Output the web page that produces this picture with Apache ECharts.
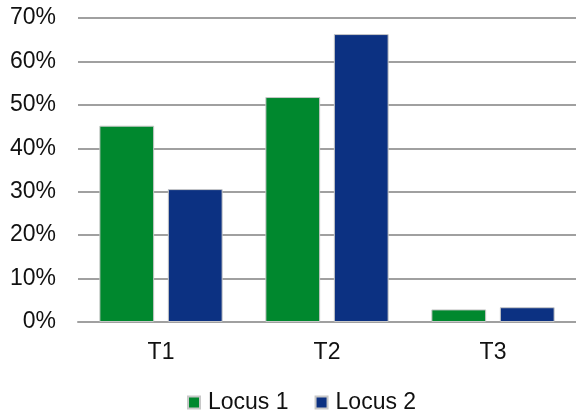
<!DOCTYPE html>
<html><head><meta charset="utf-8">
<script src="https://cdn.jsdelivr.net/npm/echarts@6/dist/echarts.min.js"></script>
<style>html,body{margin:0;padding:0;background:#fff}#c{width:576px;height:414px}</style>
</head><body><div id="c"></div>
<script>
var categories = ['T1', 'T2', 'T3'];
var locus1 = [45.2, 51.8, 2.9];
var locus2 = [30.6, 66.3, 3.4];
var seriesNames = ['Locus 1', 'Locus 2'];

var chart = echarts.init(document.getElementById('c'));
var font = 'Liberation Sans, Arial, sans-serif';
chart.setOption({
  animation: false,
  grid: {left: 78, right: 0, top: 18, bottom: 92},
  legend: {
    bottom: -5, left: 182, itemWidth: 12, itemHeight: 12, itemGap: 26,
    icon: 'rect',
    textStyle: {fontFamily: font, fontSize: 23, color: '#111', padding: [0,0,0,3]},
    data: seriesNames
  },
  xAxis: {
    type: 'category', data: categories,
    axisLine: {lineStyle: {color: '#a0a0a0', width: 2}},
    axisTick: {show: false},
    axisLabel: {fontFamily: font, fontSize: 23, color: '#111', margin: 19}
  },
  yAxis: {
    type: 'value', min: 0, max: 70, interval: 10,
    axisLine: {show: false}, axisTick: {show: false},
    splitLine: {lineStyle: {color: '#a0a0a0', width: 2}},
    axisLabel: {fontFamily: font, fontSize: 23, color: '#111', margin: 22, formatter: '{value}%'}
  },
  series: [
    {name: seriesNames[0], type: 'bar', data: locus1, barWidth: '33%', barGap: '25%',
     itemStyle: {color: '#00882e', borderColor: '#c8c8c8', borderWidth: 1}},
    {name: seriesNames[1], type: 'bar', data: locus2, barWidth: '33%',
     itemStyle: {color: '#0c3182', borderColor: '#c8c8c8', borderWidth: 1}}
  ]
});
</script></body></html>
